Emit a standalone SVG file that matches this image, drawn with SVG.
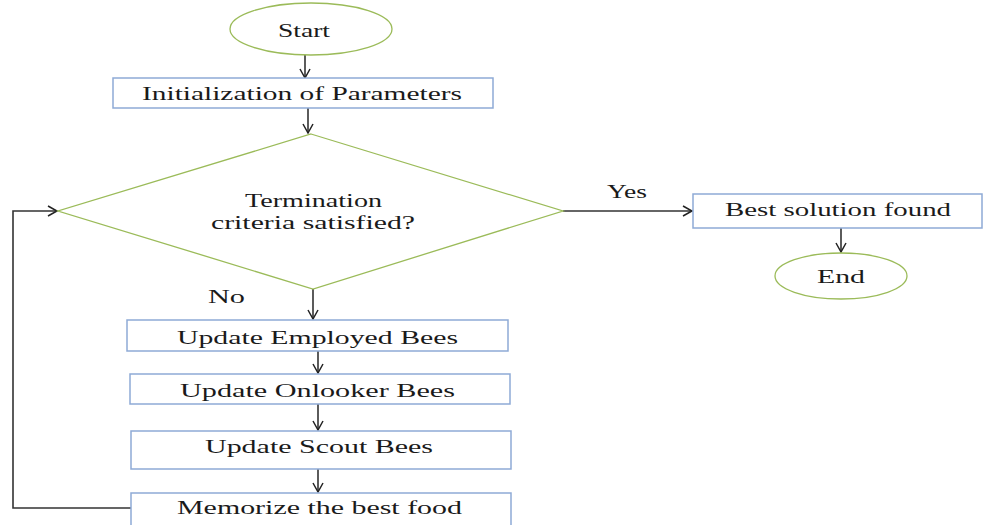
<svg xmlns="http://www.w3.org/2000/svg" width="985" height="525" viewBox="0 0 985 525">
<defs>
<marker id="arr" markerWidth="12" markerHeight="12" refX="10" refY="6" orient="auto" markerUnits="userSpaceOnUse">
<path d="M1,1 L10,6 L1,11" fill="none" stroke="#222" stroke-width="1.5"/>
</marker>
<style>
.term{fill:#fff;stroke:#9bbb59;stroke-width:1.3}
.box{fill:#fff;stroke:#8eaad6;stroke-width:1.5}
.lbl{font-family:"Liberation Serif","Times New Roman",serif;font-size:18px;fill:#1a1a1a}
.con{fill:none;stroke:#333;stroke-width:1.6}
</style>
</defs>
<rect width="985" height="525" fill="#fff"/>
<g id="connectors">
<line class="con" x1="305" y1="55" x2="305" y2="78" marker-end="url(#arr)"/>
<line class="con" x1="308" y1="108" x2="308" y2="133" marker-end="url(#arr)"/>
<line class="con" x1="563" y1="211" x2="692" y2="211" marker-end="url(#arr)"/>
<line class="con" x1="841" y1="228" x2="841" y2="252" marker-end="url(#arr)"/>
<line class="con" x1="313" y1="289" x2="313" y2="319" marker-end="url(#arr)"/>
<line class="con" x1="318" y1="351" x2="318" y2="373" marker-end="url(#arr)"/>
<line class="con" x1="318" y1="404" x2="318" y2="430" marker-end="url(#arr)"/>
<line class="con" x1="318" y1="469" x2="318" y2="492" marker-end="url(#arr)"/>
<polyline class="con" points="131,508 13,508 13,211 57,211" marker-end="url(#arr)"/>
<text class="lbl" x="607" y="198" textLength="40" lengthAdjust="spacingAndGlyphs">Yes</text>
<text class="lbl" x="208" y="303" textLength="37" lengthAdjust="spacingAndGlyphs">No</text>
</g>
<g id="start">
<ellipse class="term" cx="311" cy="29" rx="81" ry="26"/>
<text class="lbl" x="278" y="37" textLength="52" lengthAdjust="spacingAndGlyphs">Start</text>
</g>
<g id="init">
<rect class="box" x="113" y="78" width="380" height="30"/>
<text class="lbl" x="142" y="100" textLength="320" lengthAdjust="spacingAndGlyphs">Initialization  of Parameters</text>
</g>
<g id="decision">
<polygon class="term" points="311,134 563,211 313,289 58,211"/>
<text class="lbl" x="245" y="207" textLength="137" lengthAdjust="spacingAndGlyphs">Termination</text>
<text class="lbl" x="211" y="229" textLength="204" lengthAdjust="spacingAndGlyphs">criteria  satisfied?</text>
</g>
<g id="best">
<rect class="box" x="693" y="194" width="289" height="34"/>
<text class="lbl" x="725" y="216" textLength="226" lengthAdjust="spacingAndGlyphs">Best solution  found</text>
</g>
<g id="end">
<ellipse class="term" cx="841" cy="276" rx="66" ry="23"/>
<text class="lbl" x="817" y="283" textLength="48" lengthAdjust="spacingAndGlyphs">End</text>
</g>
<g id="employed">
<rect class="box" x="127" y="320" width="381" height="31"/>
<text class="lbl" x="177" y="344" textLength="281" lengthAdjust="spacingAndGlyphs">Update Employed Bees</text>
</g>
<g id="onlooker">
<rect class="box" x="130" y="374" width="380" height="30"/>
<text class="lbl" x="180" y="397" textLength="275" lengthAdjust="spacingAndGlyphs">Update Onlooker Bees</text>
</g>
<g id="scout">
<rect class="box" x="131" y="431" width="380" height="38"/>
<text class="lbl" x="205" y="453" textLength="228" lengthAdjust="spacingAndGlyphs">Update Scout Bees</text>
</g>
<g id="memorize">
<rect class="box" x="131" y="493" width="380" height="40"/>
<text class="lbl" x="177" y="514" textLength="285" lengthAdjust="spacingAndGlyphs">Memorize  the best food</text>
</g>
</svg>
